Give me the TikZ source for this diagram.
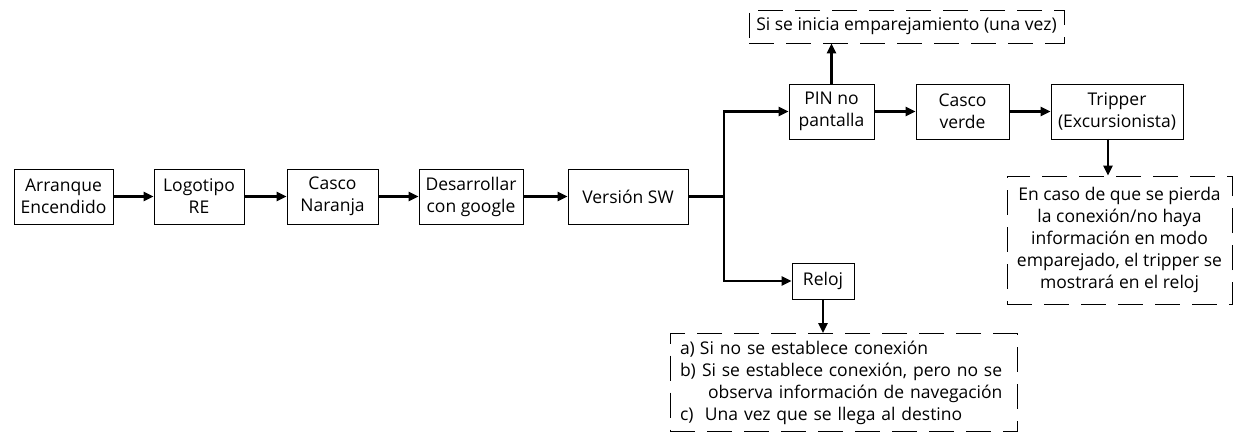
\documentclass[tikz,border=0pt]{standalone}
\usepackage{fontspec}
\setmainfont{Open Sans}
\usetikzlibrary{arrows.meta}
\begin{document}
\begin{tikzpicture}[x=1pt,y=-1pt,
  every node/.style={font=\fontsize{17.5}{22}\selectfont, inner sep=0pt, align=center},
  box/.style={draw, line width=0.9pt, minimum height=55pt},
  dbox/.style={draw, line width=0.9pt, dash pattern=on 25pt off 12pt},
  conn/.style={line width=2.6pt},
  arr/.style={line width=2.6pt, -{Triangle[length=10pt,width=9pt]}}]
\useasboundingbox (0,0) rectangle (1234,433);
% main row
\node[box, minimum width=99pt] (a1) at (63.5,196.5) {Arranque\\Encendido};
\node[box, minimum width=90pt] (a2) at (199,196.5) {Logotipo\\RE};
\node[box, minimum width=91pt] (a3) at (332.5,196.5) {Casco\\Naranja};
\node[box, minimum width=104pt] (a4) at (471,196.5) {Desarrollar\\con google};
\node[box, minimum width=120pt] (sw) at (628,196.5) {Versión SW};
% upper row
\node[box, minimum width=85pt] (pin) at (831.5,111.5) {PIN no\\pantalla};
\node[box, minimum width=93pt] (verde) at (962.5,111.5) {Casco\\verde};
\node[box, minimum width=132pt] (trip) at (1117,111.5) {Tripper\\(Excursionista)};
\node[dbox, minimum width=315pt, minimum height=33pt] (pair) at (906.5,26.5) {Si se inicia emparejamiento (una vez)};
\node[dbox, minimum width=225pt, minimum height=128pt] (lost) at (1119.5,240) {En caso de que se pierda\\la conexión/no haya\\información en modo\\emparejado, el tripper se\\mostrará en el reloj};
% lower row
\node[box, minimum width=62pt, minimum height=36pt] (reloj) at (823,281) {Reloj};
\node[dbox, text width=327pt, inner xsep=10pt, minimum height=98pt, align=left] (cases) at (843.5,382.5) {%
\makebox[20pt][l]{a)}Si no se establece conexión\\
\makebox[20pt][l]{b)}\hspace{2pt}Si se establece conexión, pero no se\\
\hspace*{28pt}observa información de navegación\\
\makebox[20pt][l]{c)}\hspace{5pt}Una vez que se llega al destino};
% connectors
\coordinate (jn) at (724,196.5);
\coordinate (tripout) at (1108,139);
\draw[arr] (a1) -- (a2);
\draw[arr] (a2) -- (a3);
\draw[arr] (a3) -- (a4);
\draw[arr] (a4) -- (sw);
\draw[conn] (sw.east) -- (jn);
\draw[arr] (jn) |- (pin.west);
\draw[arr] (jn) |- (reloj.west);
\draw[arr] (pin) -- (pin.north |- pair.south);
\draw[arr] (pin) -- (verde);
\draw[arr] (verde) -- (trip);
\draw[arr] (tripout) -- (tripout |- lost.north);
\draw[arr] (reloj) -- (reloj.south |- cases.north);
\end{tikzpicture}
\end{document}
